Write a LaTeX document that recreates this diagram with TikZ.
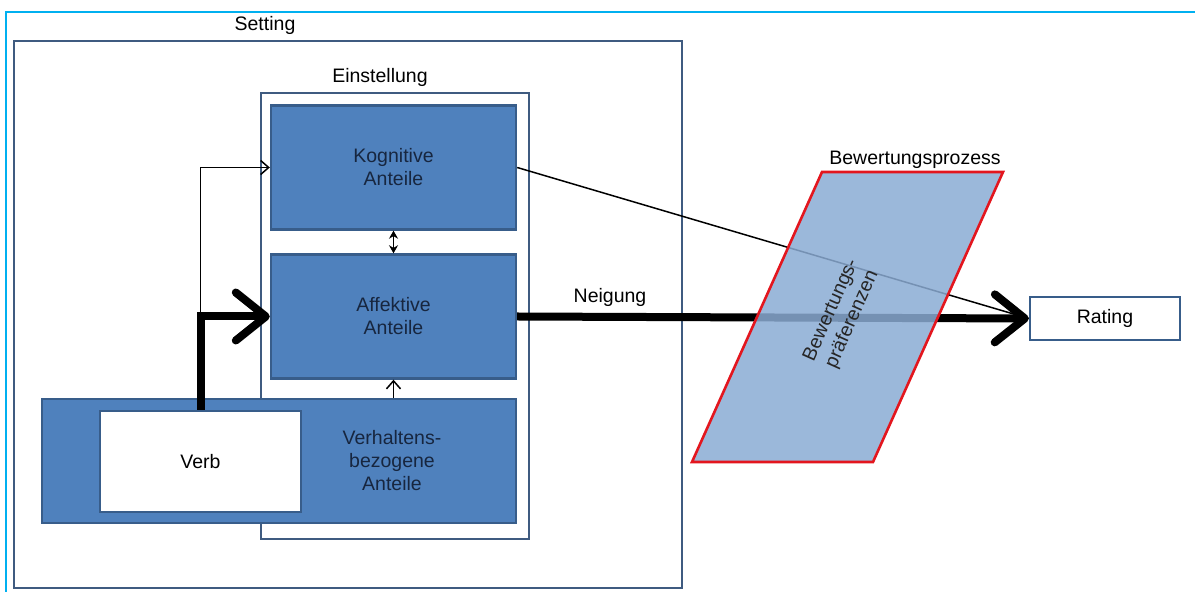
\documentclass[tikz,border=0pt]{standalone}
\usepackage{fontspec}
\setmainfont{Liberation Sans}
\usetikzlibrary{arrows.meta}

\definecolor{boxblue}{HTML}{4F81BD}
\definecolor{boxline}{HTML}{385D8A}
\definecolor{frameline}{HTML}{3F5B80}
\definecolor{navytext}{HTML}{17263F}
\definecolor{paleblue}{HTML}{8AABD3}
\definecolor{procred}{HTML}{E3161E}
\definecolor{edgecyan}{HTML}{00B0F0}

\begin{document}
\begin{tikzpicture}[x=0.5pt,y=-0.5pt,
    bigfont/.style={font=\fontsize{9.75}{11.5}\selectfont},
    frame/.style={draw=frameline,line width=1.4pt,fill=white,inner sep=0pt},
    part/.style={draw=boxline,fill=boxblue,line width=1.2pt,inner sep=0pt},
    parttext/.style={bigfont,text=navytext,align=center},
    heavy/.style={line width=4pt,-{Straight Barb[round,length=15pt,width=24pt]}},
    light/.style={line width=0.75pt,-{Straight Barb[length=4pt,width=7pt]}}]
    \useasboundingbox (0,0) rectangle (1195,592);
    \draw[edgecyan,line width=1pt] (6,592) -- (6,12) -- (1195,12);
    % outer boxes
    \node[frame,minimum width=334pt,minimum height=273.5pt] (setting) at (348,314.5) {};
    \node[bigfont] (settinglbl) at (265,25) {Setting};
    \node[frame,minimum width=134pt,minimum height=223pt] (einst) at (395,316) {};
    \node[bigfont] (einstlbl) at (380,77) {Einstellung};
    % the three parts
    \node[part,minimum width=237pt,minimum height=62pt] (verh) at (279,461) {};
    \node[parttext] (verhtext) at (392,461) {Verhaltens-\\bezogene\\Anteile};
    \node[draw=boxline,fill=white,line width=1.2pt,inner sep=0pt,minimum width=100.5pt,
          minimum height=50.5pt,bigfont] (verb) at (200.5,461.5) {Verb};
    \foreach \nm/\yc/\txt in {kog/167.5/Kognitive, aff/316.5/Affektive} {%
        \node[part,parttext,minimum width=122.5pt,minimum height=62pt] (\nm) at (393.5,\yc) {\txt\\Anteile};
    }
    \draw[line width=0.75pt,{Stealth[length=4pt,width=4.5pt]}-{Stealth[length=4pt,width=4.5pt]}] (kog.south) -- (aff.north);
    \draw[light] (aff.south |- verh.north) -- (aff.south);
    \draw[light] (verb.north |- aff.west) |- (kog.west);
    \draw[heavy] (verb.north) |- (aff.west);
    \node[bigfont] (neigung) at (610,297) {Neigung};
    \node[draw=boxline,line width=1.2pt,inner sep=0pt,minimum width=75pt,minimum height=21.5pt,
          bigfont] (rating) at (1105,318.5) {Rating};
    \draw[line width=0.75pt] (kog.east) -- (rating.west);
    \draw[heavy] (aff.east) -- (rating.west);
    % evaluation process
    \coordinate (p1) at (822,172);
    \coordinate (p2) at (1003,172);
    \coordinate (p3) at (873,462);
    \coordinate (p4) at (692,462);
    \draw[procred,line width=1.3pt,fill=paleblue,fill opacity=0.85] (p1) -- (p2) -- (p3) -- (p4) -- cycle;
    \node[bigfont] (prozess) at (915,160) {Bewertungsprozess};
    \node[bigfont,rotate=66,align=center,text=black!85] (praef) at (842,315) {Bewertungs-\\präferenzen};
\end{tikzpicture}
\end{document}
